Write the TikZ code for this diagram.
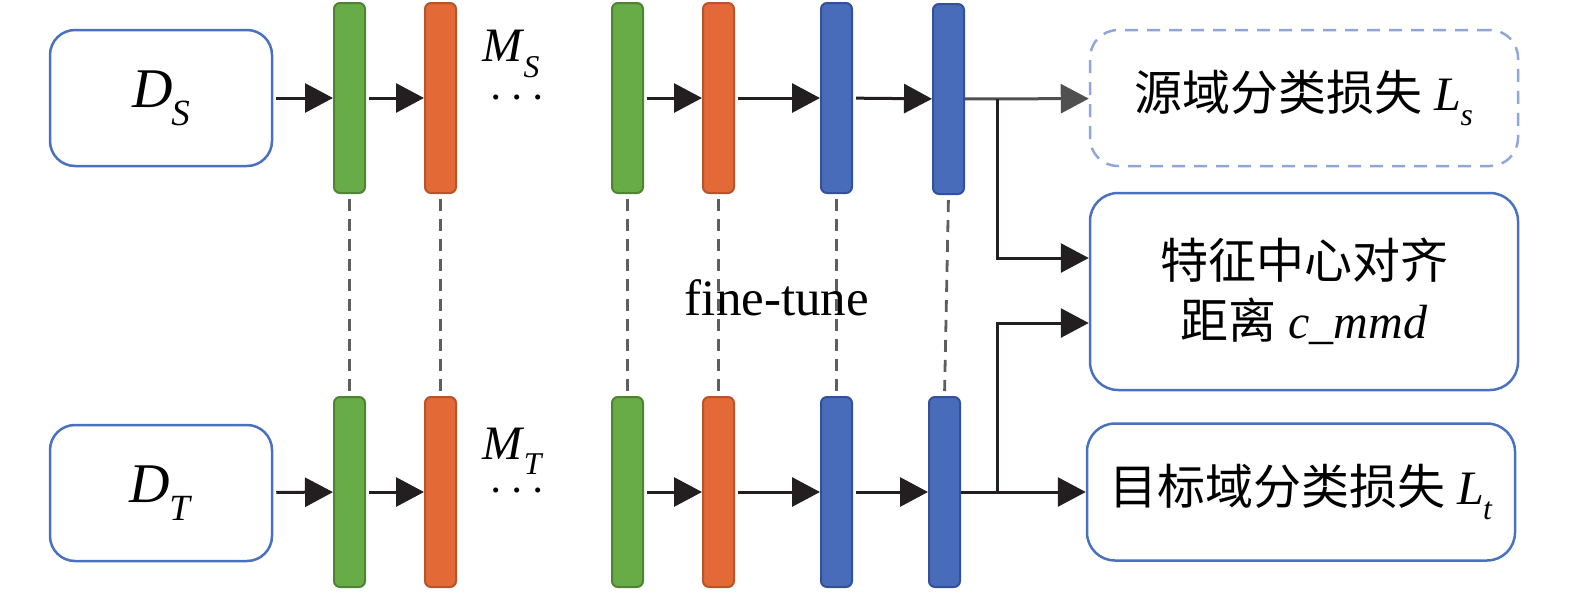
\RequirePackage{fix-cm}
\documentclass[tikz,border=0pt]{standalone}
\usepackage{fontspec}
\setmainfont{Liberation Serif}
\newfontfamily\cjk{Noto Sans CJK SC}
\usetikzlibrary{arrows.meta}
\definecolor{greenfill}{HTML}{68AC48}
\definecolor{greenedge}{HTML}{4F8434}
\definecolor{orangefill}{HTML}{E36936}
\definecolor{orangeedge}{HTML}{B9532A}
\definecolor{bluefill}{HTML}{486BBA}
\definecolor{blueedge}{HTML}{33519A}
\definecolor{boxblue}{HTML}{4A70C0}
\definecolor{lightblue}{HTML}{8EA7D8}
\definecolor{tiegray}{HTML}{5E5E5E}
\definecolor{arrowgray}{HTML}{505050}
\definecolor{ink}{HTML}{231F20}
\newcommand{\ivar}[2]{\textit{#1}\kern-1pt\raisebox{-0.32em}{\scalebox{0.66}{\textit{#2}}}}
\tikzstyle{data box}=[draw=boxblue, line width=2.5pt, rounded corners=25pt, minimum width=222pt, minimum height=136pt, font=\fontsize{56}{64}\selectfont]
\tikzstyle{loss box}=[draw=boxblue, line width=2.5pt, rounded corners=28pt, minimum width=428pt, minimum height=136pt, align=center]
\tikzstyle{layer}=[rounded corners=6pt, line width=2pt, minimum width=31pt, minimum height=190pt, inner sep=0pt]
\tikzstyle{greenbar}=[layer, fill=greenfill, draw=greenedge]
\tikzstyle{orangebar}=[layer, fill=orangefill, draw=orangeedge]
\tikzstyle{bluebar}=[layer, fill=bluefill, draw=blueedge]
\tikzstyle{arrow}=[-{Triangle[length=28pt,width=29pt]}, line width=3pt, ink]
\tikzstyle{tie}=[draw=tiegray, line width=2.8pt, dash pattern=on 12pt off 8pt, shorten <=5pt, shorten >=5pt]
\tikzstyle{label}=[inner sep=0pt]

\begin{document}
\begin{tikzpicture}[x=1pt, y=-1pt, font=\fontsize{48}{62}\selectfont]
    \useasboundingbox (0,0) rectangle (1575,595);

    \node [data box] (ds) at (161,98) {\ivar{D}{S}};
    \node [data box] (dt) at (161,493) {\ivar{D}{T}};

    \foreach \n/\x/\y/\c in {sg1/349.5/98/green, so1/440.5/98/orange,
        sg2/627.5/98/green, so2/718.5/98/orange, sb1/836.5/98/blue, sb2/948.5/99/blue,
        tg1/349.5/492/green, to1/440.5/492/orange,
        tg2/627.5/492/green, to2/718.5/492/orange, tb1/836.5/492/blue, tb2/944.5/492/blue}
    \node [\c bar] (\n) at (\x,\y) {};

    \node [label] (ms) at (511,54) {\ivar{M}{S}};
    \node [label] (sdots) at (517,99) {$\cdots$};
    \node [label] (mt) at (513,451) {\ivar{M}{T}};
    \node [label] (tdots) at (517,492) {$\cdots$};

    \node [loss box, draw=lightblue, dashed, dash pattern=on 13pt off 9pt] (ls) at (1304,98) {{\cjk 源域分类损失} \ivar{L}{s}};
    \node [loss box, minimum height=197pt] (feat) at (1304,291.5) {{\cjk 特征中心对齐}\\[-2pt]{\cjk 距离} \textit{c\_mmd}};
    \node [loss box, minimum height=137pt] (lt) at (1301,492) {{\cjk 目标域分类损失} \ivar{L}{t}};

    \node [label, font=\fontsize{51}{60}\selectfont] (tune) at (777,298) {fine-tune};

    % source and target streams
    \foreach \a/\b in {ds/sg1, sg1/so1, sg2/so2, so2/sb1, sb1/sb2,
        dt/tg1, tg1/to1, tg2/to2, to2/tb1, tb1/tb2}
    \draw [arrow, shorten <=3pt] (\a) -- (\b);

    % shared layers
    \foreach \a/\b in {sg1/tg1, so1/to1, sg2/tg2, so2/to2, sb1/tb1, sb2/tb2}
    \draw [tie] (\a.south) -- (\b.north);

    \coordinate (sfork) at (997,99);
    \coordinate (tfork) at (997,492);
    \draw [arrow, draw=arrowgray] (sb2) -- (ls);
    \draw [arrow] (sfork) |- ([yshift=33.5pt]feat.west);
    \draw [arrow] (tb2) -- (lt);
    \draw [arrow] (tfork) |- ([yshift=-31.5pt]feat.west);
\end{tikzpicture}
\end{document}
